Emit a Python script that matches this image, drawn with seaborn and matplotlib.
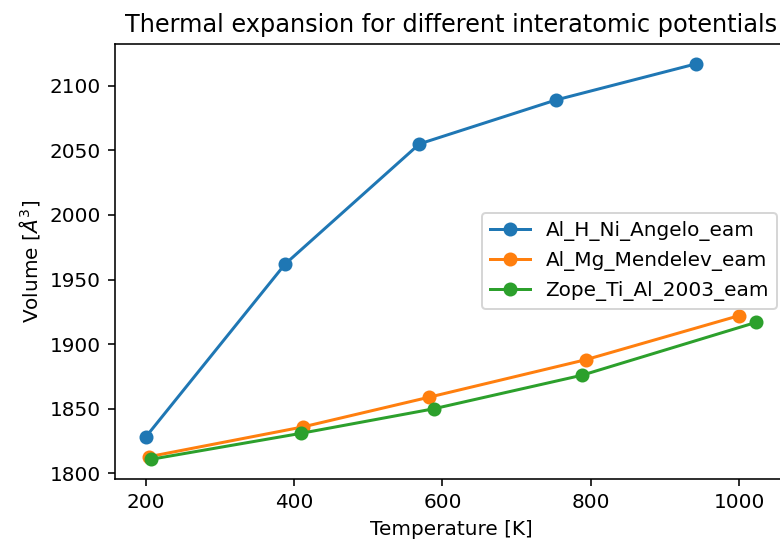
import matplotlib
matplotlib.use("Agg")
import matplotlib.pyplot as plt
import pandas as pd
import seaborn as sns

# values
potentials = ["Al_H_Ni_Angelo_eam", "Al_Mg_Mendelev_eam", "Zope_Ti_Al_2003_eam"]

temp_angelo = [200, 388, 569, 753, 942]
vol_angelo = [1828, 1962, 2055, 2089, 2117]

temp_mendelev = [205, 412, 582, 793, 999]
vol_mendelev = [1813, 1836, 1859, 1888, 1922]

temp_zope = [208, 409, 588, 788, 1023]
vol_zope = [1811, 1831, 1850, 1876, 1917]

colors = ["#1f77b4", "#ff7f0e", "#2ca02c"]


def main():
    series = [
        (temp_angelo, vol_angelo),
        (temp_mendelev, vol_mendelev),
        (temp_zope, vol_zope),
    ]

    # reference is a retina jupyter export: 6x4 in at 144 dpi, cropped on the right
    fig = plt.figure(figsize=(780 / 144, 544 / 144), dpi=144)
    ax = fig.add_axes([115 / 780, 1 - 479 / 544, (787 - 115) / 780, (479 - 44) / 544])

    for name, (t, v), c in zip(potentials, series, colors):
        df = pd.DataFrame({"T": t, "V": v})
        sns.lineplot(data=df, x="T", y="V", ax=ax, color=c, label=name,
                     marker="o", markersize=6, markeredgecolor=c,
                     markeredgewidth=1, linewidth=1.5, sort=False)

    ax.set_title("Thermal expansion for different interatomic potentials")
    ax.set_xlabel("Temperature [K]")
    ax.set_ylabel("Volume [$Å^3$]")
    ax.set_xticks([200, 400, 600, 800, 1000])
    ax.legend(loc="center right")

    fig.savefig("out.png", dpi=144)
    plt.close(fig)


if __name__ == "__main__":
    main()
